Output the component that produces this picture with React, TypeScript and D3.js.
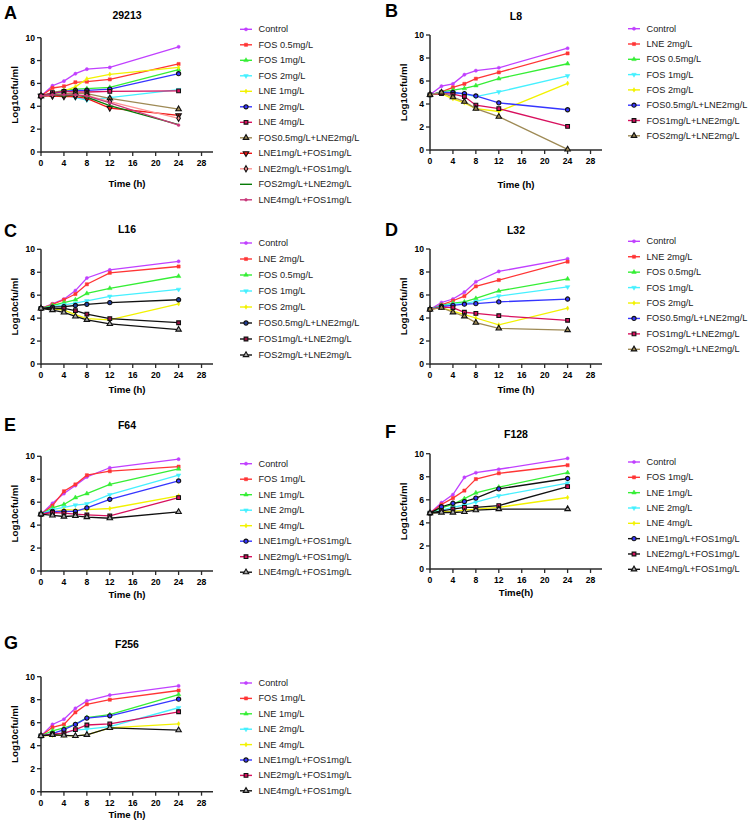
import React from 'react';
import * as d3 from 'd3';

const TIMES = [0, 2, 4, 6, 8, 12, 24];
const X_TICKS = [0, 4, 8, 12, 16, 20, 24, 28];
const Y_TICKS = [0, 2, 4, 6, 8, 10];

// Panel A: 29213
const A_NAMES = ['Control', 'FOS 0.5mg/L', 'FOS 1mg/L', 'FOS 2mg/L', 'LNE 1mg/L', 'LNE 2mg/L', 'LNE 4mg/L',
  'FOS0.5mg/L+LNE2mg/L', 'LNE1mg/L+FOS1mg/L', 'LNE2mg/L+FOS1mg/L', 'FOS2mg/L+LNE2mg/L', 'LNE4mg/L+FOS1mg/L'];
const A_VALUES = [
  [4.9, 5.8, 6.2, 6.85, 7.25, 7.4, 9.2],
  [4.9, 5.6, 5.75, 6.1, 6.15, 6.35, 7.7],
  [4.9, 5.2, 5.4, 5.5, 5.55, 5.65, 7.2],
  [4.9, 5.1, 5.0, 4.75, 4.55, 4.75, 5.45],
  [4.9, 5.0, 5.35, 5.7, 6.4, 6.8, 7.4],
  [4.9, 5.1, 5.3, 5.4, 5.4, 5.5, 6.85],
  [4.9, 5.2, 5.3, 5.25, 5.25, 5.3, 5.35],
  [4.9, 5.0, 5.1, 5.15, 5.1, 4.7, 3.75],
  [4.9, 4.9, 4.85, 4.85, 4.7, 3.85, 3.2],
  [4.9, 4.95, 5.0, 4.95, 4.95, 4.4, 2.95],
  [4.9, 5.0, 4.9, 5.0, 4.8, 4.05, 2.4],
  [4.9, 5.0, 5.0, 5.0, 4.9, 4.3, 2.35],
];

// Panel B: L8
const L_NAMES = ['Control', 'LNE 2mg/L', 'FOS 0.5mg/L', 'FOS 1mg/L', 'FOS 2mg/L',
  'FOS0.5mg/L+LNE2mg/L', 'FOS1mg/L+LNE2mg/L', 'FOS2mg/L+LNE2mg/L'];
const B_VALUES = [
  [4.8, 5.55, 5.75, 6.55, 6.9, 7.15, 8.85],
  [4.8, 5.05, 5.45, 5.75, 6.2, 6.75, 8.4],
  [4.8, 5.05, 5.2, 5.35, 5.6, 6.2, 7.5],
  [4.8, 5.0, 5.0, 4.85, 4.65, 5.05, 6.45],
  [4.8, 4.9, 4.45, 4.1, 3.6, 3.35, 5.8],
  [4.8, 5.0, 5.0, 4.9, 4.7, 4.1, 3.5],
  [4.8, 4.9, 4.85, 4.65, 3.9, 3.6, 2.05],
  [4.8, 5.0, 4.6, 4.2, 3.6, 2.9, 0.05],
];

// Panel C: L16
const C_VALUES = [
  [4.85, 5.25, 5.65, 6.4, 7.5, 8.2, 8.95],
  [4.85, 5.2, 5.6, 6.1, 6.95, 7.95, 8.5],
  [4.85, 5.1, 5.35, 5.6, 6.15, 6.6, 7.65],
  [4.85, 5.0, 5.15, 5.3, 5.5, 5.9, 6.5],
  [4.85, 4.8, 4.7, 4.3, 3.95, 3.85, 5.25],
  [4.85, 4.95, 5.0, 5.1, 5.2, 5.35, 5.6],
  [4.85, 4.8, 4.85, 4.65, 4.35, 3.95, 3.6],
  [4.85, 4.7, 4.5, 4.15, 3.85, 3.5, 3.0],
];

// Panel D: L32
const D_VALUES = [
  [4.75, 5.35, 5.65, 6.25, 7.15, 8.05, 9.15],
  [4.75, 5.15, 5.5, 5.9, 6.75, 7.3, 8.9],
  [4.75, 5.1, 5.3, 5.4, 5.7, 6.35, 7.4],
  [4.75, 5.05, 5.2, 5.25, 5.45, 5.9, 6.7],
  [4.75, 4.9, 4.6, 4.3, 4.0, 3.4, 4.85],
  [4.75, 5.0, 5.1, 5.2, 5.25, 5.4, 5.65],
  [4.75, 4.95, 4.9, 4.5, 4.4, 4.2, 3.8],
  [4.75, 4.9, 4.5, 4.15, 3.6, 3.1, 2.95],
];

// Panels E/F/G
const F_NAMES = ['Control', 'FOS 1mg/L', 'LNE 1mg/L', 'LNE 2mg/L', 'LNE 4mg/L',
  'LNE1mg/L+FOS1mg/L', 'LNE2mg/L+FOS1mg/L', 'LNE4mg/L+FOS1mg/L'];
const E_VALUES = [
  [4.95, 5.9, 6.75, 7.45, 8.2, 9.0, 9.75],
  [4.95, 5.7, 6.95, 7.55, 8.35, 8.7, 9.1],
  [4.95, 5.5, 5.8, 6.4, 6.75, 7.55, 8.9],
  [4.95, 5.35, 5.55, 5.75, 5.85, 6.65, 8.35],
  [4.95, 5.1, 5.35, 5.3, 5.35, 5.45, 6.55],
  [4.95, 5.2, 5.2, 5.2, 5.5, 6.25, 7.85],
  [4.95, 5.1, 5.05, 4.95, 4.9, 4.8, 6.4],
  [4.95, 4.85, 4.75, 4.8, 4.7, 4.6, 5.15],
];
const F_VALUES = [
  [4.85, 5.75, 6.45, 7.95, 8.35, 8.65, 9.6],
  [4.85, 5.6, 6.15, 6.8, 7.8, 8.3, 9.0],
  [4.85, 5.3, 5.6, 6.1, 6.6, 7.1, 8.35],
  [4.85, 5.1, 5.35, 5.55, 5.8, 6.35, 7.45],
  [4.85, 4.95, 5.0, 5.1, 5.2, 5.35, 6.2],
  [4.85, 5.4, 5.7, 5.85, 6.15, 6.95, 7.85],
  [4.85, 5.05, 5.2, 5.35, 5.35, 5.5, 7.15],
  [4.85, 4.9, 4.9, 4.95, 5.1, 5.2, 5.2],
];
const G_VALUES = [
  [4.85, 5.85, 6.3, 7.25, 7.9, 8.4, 9.2],
  [4.85, 5.6, 5.85, 6.9, 7.6, 8.0, 8.8],
  [4.85, 5.3, 5.55, 5.85, 6.45, 6.7, 8.45],
  [4.85, 5.0, 5.1, 5.35, 5.45, 5.65, 7.3],
  [4.85, 4.9, 4.9, 4.85, 4.95, 5.55, 5.9],
  [4.85, 5.05, 5.4, 5.85, 6.4, 6.6, 8.05],
  [4.85, 5.0, 5.1, 5.4, 5.8, 5.9, 6.95],
  [4.85, 4.95, 4.9, 4.85, 4.95, 5.55, 5.35],
];

type Style = { line: string; shape: string; fill: string; stroke: string; size: number };
const st = (line: string, shape: string, fill: string, stroke: string, size: number): Style => ({ line, shape, fill, stroke, size });

const PURPLE = '#C040FF', RED = '#FF3535', GREEN = '#35EE35', CYAN = '#45F0FF', YELLOW = '#F2F200',
  BLUE = '#3535FF', CRIMSON = '#D8105E', OLIVE = '#9E8A55', BLACK = '#111';

const baseFive = [
  st(PURPLE, 'circle', PURPLE, PURPLE, 8),
  st(RED, 'square', RED, RED, 10),
  st(GREEN, 'triangle', GREEN, GREEN, 9),
  st(CYAN, 'triangleDown', CYAN, CYAN, 9),
  st(YELLOW, 'diamond', YELLOW, YELLOW, 6),
];

const A_STYLES = [
  ...baseFive,
  st(BLUE, 'circle', BLUE, BLACK, 14),
  st(CRIMSON, 'square', CRIMSON, BLACK, 14),
  st(OLIVE, 'triangle', OLIVE, BLACK, 13),
  st('#F01515', 'triangleDown', '#F01515', BLACK, 13),
  st('#FF9494', 'diamond', '#FF9494', BLACK, 11),
  st('#067A06', 'none', '#067A06', '#067A06', 0),
  st('#C8387A', 'circle', '#C8387A', '#C8387A', 6),
];
const B_STYLES = [
  ...baseFive,
  st(BLUE, 'circle', BLUE, BLACK, 14),
  st(CRIMSON, 'square', CRIMSON, BLACK, 14),
  st(OLIVE, 'triangle', OLIVE, BLACK, 13),
];
const C_STYLES = [
  ...baseFive,
  st(BLACK, 'circle', '#1E3C9A', BLACK, 14),
  st(BLACK, 'square', '#9A1040', BLACK, 14),
  st(BLACK, 'triangle', '#aaa', BLACK, 13),
];
const E_STYLES = [
  ...baseFive,
  st(BLUE, 'circle', BLUE, BLACK, 14),
  st(CRIMSON, 'square', CRIMSON, BLACK, 14),
  st(BLACK, 'triangle', '#aaa', BLACK, 13),
];
const F_STYLES = [
  ...baseFive,
  st(BLACK, 'circle', BLUE, BLACK, 14),
  st(BLACK, 'square', CRIMSON, BLACK, 14),
  st(BLACK, 'triangle', '#aaa', BLACK, 13),
];

type PanelCfg = {
  letter: string; title: string; xLabel: string;
  x0: number; x1: number; yTop: number; yBot: number;
  letterX: number; letterY: number; titleY: number; xLabDy: number;
  legX: number; legY: number; legDy: number;
  names: string[]; values: number[][]; styles: Style[];
};

const LEFT = { x0: 41, x1: 213, legX: 240 };
const RIGHT = { x0: 430, x1: 602, legX: 628 };

const PANELS: PanelCfg[] = [
  { letter: 'A', title: '29213', xLabel: 'Time (h)', ...LEFT, yTop: 37.7, yBot: 152, letterX: 4, letterY: 13, titleY: 15, xLabDy: 31, legY: 29.3, legDy: 15.5, names: A_NAMES, values: A_VALUES, styles: A_STYLES },
  { letter: 'B', title: 'L8', xLabel: 'Time (h)', ...RIGHT, yTop: 35, yBot: 150, letterX: 385, letterY: 11, titleY: 16, xLabDy: 34, legY: 28.7, legDy: 15.3, names: L_NAMES, values: B_VALUES, styles: B_STYLES },
  { letter: 'C', title: 'L16', xLabel: 'Time (h)', ...LEFT, yTop: 249.3, yBot: 364, letterX: 4, letterY: 231, titleY: 229, xLabDy: 25, legY: 243, legDy: 16, names: L_NAMES, values: C_VALUES, styles: C_STYLES },
  { letter: 'D', title: 'L32', xLabel: 'Time (h)', ...RIGHT, yTop: 249, yBot: 364, letterX: 385, letterY: 230, titleY: 230, xLabDy: 25, legY: 241.3, legDy: 15.43, names: L_NAMES, values: D_VALUES, styles: B_STYLES },
  { letter: 'E', title: 'F64', xLabel: 'Time (h)', ...LEFT, yTop: 456.3, yBot: 571, letterX: 4, letterY: 425, titleY: 425, xLabDy: 23.7, legY: 463.7, legDy: 15.5, names: F_NAMES, values: E_VALUES, styles: E_STYLES },
  { letter: 'F', title: 'F128', xLabel: 'Time(h)', ...RIGHT, yTop: 453.7, yBot: 569, letterX: 385, letterY: 432, titleY: 434, xLabDy: 23.7, legY: 462, legDy: 15.33, names: F_NAMES, values: F_VALUES, styles: F_STYLES },
  { letter: 'G', title: 'F256', xLabel: 'Time (h)', ...LEFT, yTop: 676.7, yBot: 791.7, letterX: 4, letterY: 643, titleY: 644, xLabDy: 23, legY: 683, legDy: 15.4, names: F_NAMES, values: G_VALUES, styles: E_STYLES },
];

const FONT = '"Liberation Sans", Arial, sans-serif';

function symbolPath(shape: string, size: number): string | null {
  const map: Record<string, d3.SymbolType> = {
    circle: d3.symbolCircle, square: d3.symbolSquare, triangle: d3.symbolTriangle,
    triangleDown: d3.symbolTriangle, diamond: d3.symbolDiamond, plus: d3.symbolCross,
  };
  if (!map[shape]) return null;
  return d3.symbol(map[shape], size)() as string;
}

function Marker({ x, y, s }: { x: number; y: number; s: Style }) {
  const p = symbolPath(s.shape, s.size);
  if (!p) return null;
  const rot = s.shape === 'triangleDown' ? ' rotate(180)' : '';
  const outlined = s.stroke !== s.fill;
  return <path d={p} transform={`translate(${x},${y})${rot}`} fill={s.fill} stroke={s.stroke} strokeWidth={outlined ? 1.1 : 0.5} />;
}

function Panel({ c }: { c: PanelCfg }) {
  const x = d3.scaleLinear().domain([0, 30]).range([c.x0, c.x1]);
  const y = d3.scaleLinear().domain([0, 10]).range([c.yBot, c.yTop]);
  const line = d3.line<number>().x((_, i) => x(TIMES[i])).y((v) => y(v));
  const axisColor = '#2a2a2a';
  const titleX = (c.x0 + c.x1) / 2;
  const yLabX = c.x0 - 27;
  return (
    <g>
      <text x={c.letterX} y={c.letterY} dominantBaseline="central" fontFamily={FONT} fontWeight="bold" fontSize={18}>{c.letter}</text>
      <text x={titleX} y={c.titleY} textAnchor="middle" dominantBaseline="central" fontFamily={FONT} fontWeight="bold" fontSize={10.5}>{c.title}</text>
      <line x1={c.x0} x2={c.x1} y1={c.yBot} y2={c.yBot} stroke={axisColor} strokeWidth={1.5} />
      <line x1={c.x0} x2={c.x0} y1={c.yBot + 0.75} y2={c.yTop} stroke={axisColor} strokeWidth={1.5} />
      {X_TICKS.map((t) => (
        <g key={'xt' + t}>
          <line x1={x(t)} x2={x(t)} y1={c.yBot} y2={c.yBot + 4} stroke={axisColor} strokeWidth={1.3} />
          <text x={x(t)} y={c.yBot + 11} textAnchor="middle" dominantBaseline="central" fontFamily={FONT} fontWeight="bold" fontSize={8.6}>{t}</text>
        </g>
      ))}
      {Y_TICKS.map((t) => (
        <g key={'yt' + t}>
          <line x1={c.x0 - 4} x2={c.x0} y1={y(t)} y2={y(t)} stroke={axisColor} strokeWidth={1.3} />
          <text x={c.x0 - 6} y={y(t)} textAnchor="end" dominantBaseline="central" fontFamily={FONT} fontWeight="bold" fontSize={8.6}>{t}</text>
        </g>
      ))}
      <text x={titleX} y={c.yBot + c.xLabDy} textAnchor="middle" dominantBaseline="central" fontFamily={FONT} fontWeight="bold" fontSize={9.6}>{c.xLabel}</text>
      <text transform={`translate(${yLabX},${(c.yTop + c.yBot) / 2}) rotate(-90)`} textAnchor="middle" dominantBaseline="central" fontFamily={FONT} fontWeight="bold" fontSize={9.8}>Log10cfu/ml</text>
      {c.values.map((vals, si) => {
        const s = c.styles[si];
        return (
          <g key={'s' + si}>
            <path d={line(vals) as string} fill="none" stroke={s.line} strokeWidth={1.3} />
            {vals.map((v, i) => <Marker key={i} x={x(TIMES[i])} y={y(v)} s={s} />)}
          </g>
        );
      })}
      {c.names.map((n, i) => {
        const s = c.styles[i];
        const ly = c.legY + i * c.legDy;
        return (
          <g key={'l' + i}>
            <line x1={c.legX} x2={c.legX + 12} y1={ly} y2={ly} stroke={s.line} strokeWidth={1.4} />
            <Marker x={c.legX + 6} y={ly} s={s} />
            <text x={c.legX + 18.5} y={ly} dominantBaseline="central" fontFamily={FONT} fontSize={9.2} fill="#222">{n}</text>
          </g>
        );
      })}
    </g>
  );
}

export default function App() {
  return (
    <svg width={753} height={822} style={{ position: 'absolute', left: 0, top: 0, background: '#fff' }}>
      <rect width={753} height={822} fill="#fff" />
      {PANELS.map((p) => <Panel key={p.letter} c={p} />)}
    </svg>
  );
}
